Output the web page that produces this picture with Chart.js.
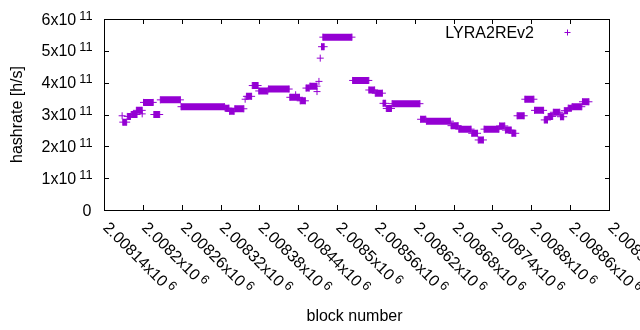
<!DOCTYPE html>
<html><head><meta charset="utf-8">
<script src="https://cdn.jsdelivr.net/npm/chart.js@4.4.1/dist/chart.umd.min.js"></script>
<style>html,body{margin:0;padding:0;background:#fff;}#wrap{width:640px;height:330px;}</style>
</head><body><div id="wrap"><canvas id="c" width="640" height="330"></canvas></div>
<script>
// ---- data ----
const seriesName = 'LYRA2REv2';
const xTitle = 'block number';
const yTitle = 'hashrate [h/s]';
const xTickValues = [2008140,2008200,2008260,2008320,2008380,2008440,2008500,2008560,2008620,2008680,2008740,2008800,2008860,2008920];
const xTickMant = ['2.00814','2.0082','2.00826','2.00832','2.00838','2.00844','2.0085','2.00856','2.00862','2.00868','2.00874','2.0088','2.00886','2.00892'];
const xTickExp = '6';
const yTickValues = [0,1e11,2e11,3e11,4e11,5e11,6e11];
const yTickMant = ['0','1','2','3','4','5','6'];
const yTickExp = '11';

// runs of consecutive blocks at a constant hashrate
const runStart = [2008169,2008176,2008182,2008190,2008201,2008217,2008227,2008259,2008327,2008334,2008342,2008360,2008369,2008379,2008394,2008427,2008443,2008452,2008458,2008476,2008478,2008524,2008549,2008559,2008571,2008576,2008585,2008629,2008638,2008676,2008688,2008708,2008718,2008727,2008751,2008760,2008770,2008778,2008790,2008805,2008820,2008826,2008834,2008845,2008851,2008857,2008863,2008879];
const runEnd = [2008175,2008181,2008191,2008199,2008216,2008226,2008258,2008326,2008333,2008341,2008356,2008368,2008378,2008393,2008426,2008442,2008451,2008457,2008469,2008480,2008523,2008549,2008558,2008570,2008575,2008584,2008628,2008637,2008675,2008687,2008707,2008717,2008726,2008750,2008759,2008769,2008776,2008789,2008804,2008819,2008825,2008833,2008844,2008850,2008856,2008862,2008878,2008889];
const runHashrate = [2.76e11,2.94e11,3.00e11,3.13e11,3.38e11,3.00e11,3.46e11,3.245e11,3.20e11,3.10e11,3.18e11,3.57e11,3.91e11,3.74e11,3.80e11,3.54e11,3.43e11,3.83e11,3.89e11,5.13e11,5.43e11,4.07e11,3.77e11,3.67e11,3.35e11,3.19e11,3.34e11,2.85e11,2.79e11,2.65e11,2.54e11,2.41e11,2.20e11,2.54e11,2.64e11,2.51e11,2.41e11,2.96e11,3.48e11,3.13e11,2.83e11,2.94e11,3.07e11,2.93e11,3.12e11,3.20e11,3.245e11,3.40e11];
// isolated blocks
const pointBlock = [2008168,2008199,2008358,2008436,2008469,2008472,2008474];
const pointHashrate = [2.96e11,3.02e11,3.48e11,3.62e11,3.72e11,4.04e11,4.77e11];

// ---- build library tables ----
const color = '#9400d3';
const runData = [];
runStart.forEach((s, i) => {
  runData.push({x: s, y: runHashrate[i]});
  runData.push({x: runEnd[i], y: runHashrate[i]});
  runData.push({x: runEnd[i], y: null});
});
const pointData = pointBlock.map((b, i) => ({x: b, y: pointHashrate[i]}));

const FONT = '"Liberation Sans", Arial, sans-serif';
const FS = 16, SFS = 12.8, RAISE = 5, GAP = 3;

const decor = {
  id: 'decor',
  afterDraw(chart) {
    const {ctx, chartArea: a, scales: {x, y}} = chart;
    ctx.save();
    ctx.strokeStyle = '#000';
    ctx.lineWidth = 1;
    ctx.strokeRect(a.left + 0.5, a.top + 0.5, a.right - a.left, a.bottom - a.top);
    ctx.beginPath();
    const TL = 5;
    xTickValues.forEach(v => {
      const px = Math.round(x.getPixelForValue(v)) + 0.5;
      ctx.moveTo(px, a.bottom); ctx.lineTo(px, a.bottom - TL);
      ctx.moveTo(px, a.top); ctx.lineTo(px, a.top + TL);
    });
    yTickValues.forEach(v => {
      const py = Math.round(y.getPixelForValue(v)) + 0.5;
      ctx.moveTo(a.left, py); ctx.lineTo(a.left + TL, py);
      ctx.moveTo(a.right + 1, py); ctx.lineTo(a.right + 1 - TL, py);
    });
    ctx.stroke();

    ctx.fillStyle = '#000';
    // y tick labels
    const yRight = 92.5;
    yTickValues.forEach((v, i) => {
      const py = y.getPixelForValue(v);
      const base = py + 5.6;
      if (v === 0) {
        ctx.font = FS + 'px ' + FONT; ctx.textAlign = 'right'; ctx.textBaseline = 'alphabetic';
        ctx.fillText(yTickMant[i], yRight - 1, base);
        return;
      }
      ctx.font = SFS + 'px ' + FONT;
      const ws = ctx.measureText(yTickExp).width;
      ctx.textAlign = 'left'; ctx.textBaseline = 'alphabetic';
      ctx.fillText(yTickExp, yRight - ws, base - RAISE);
      ctx.font = FS + 'px ' + FONT;
      ctx.textAlign = 'right';
      ctx.fillText(yTickMant[i] + 'x10', yRight - ws - GAP, base);
    });
    // x tick labels, rotated
    xTickValues.forEach((v, i) => {
      const px = x.getPixelForValue(v);
      ctx.save();
      ctx.translate(px - 1.8, a.bottom + 18.5);
      ctx.rotate(Math.PI / 4);
      ctx.textAlign = 'left'; ctx.textBaseline = 'alphabetic';
      ctx.font = FS + 'px ' + FONT;
      const m = xTickMant[i] + 'x10';
      ctx.fillText(m, 0, 0);
      const wm = ctx.measureText(m).width;
      ctx.font = SFS + 'px ' + FONT;
      ctx.fillText(xTickExp, wm + GAP, -RAISE);
      ctx.restore();
    });
    // axis titles
    ctx.font = FS + 'px ' + FONT;
    ctx.textAlign = 'center'; ctx.textBaseline = 'alphabetic';
    ctx.fillText(xTitle, 354.5, 320.5);
    ctx.save();
    ctx.translate(21.5, 114.5);
    ctx.rotate(-Math.PI / 2);
    ctx.fillText(yTitle, 0, 0);
    ctx.restore();
    // legend
    ctx.textAlign = 'right';
    ctx.fillText(seriesName, 534, 38);
    ctx.strokeStyle = color;
    ctx.beginPath();
    ctx.moveTo(564.5, 32.5); ctx.lineTo(570.5, 32.5);
    ctx.moveTo(567.5, 29.5); ctx.lineTo(567.5, 35.5);
    ctx.stroke();
    ctx.restore();
  }
};

new Chart(document.getElementById('c'), {
  type: 'line',
  data: {
    datasets: [
      {label: seriesName, data: runData, borderColor: color, backgroundColor: color,
       borderWidth: 7, borderCapStyle: 'butt', tension: 0, spanGaps: false, fill: false,
       pointStyle: 'cross', pointRadius: 3.5, pointHoverRadius: 3.5, pointBorderWidth: 1,
       pointBorderColor: color},
      {label: seriesName, data: pointData, showLine: false, borderColor: color, backgroundColor: color,
       pointStyle: 'cross', pointRadius: 3.5, pointHoverRadius: 3.5, pointBorderWidth: 1,
       pointBorderColor: color}
    ]
  },
  options: {
    responsive: false, animation: false, devicePixelRatio: 1,
    layout: {padding: {top: 19, right: 31, left: 0, bottom: 0}},
    plugins: {legend: {display: false}, tooltip: {enabled: false}},
    events: [],
    scales: {
      x: {type: 'linear', min: 2008140, max: 2008920,
          grid: {display: false}, border: {display: false}, ticks: {display: false},
          afterFit: s => { s.height = 120; }},
      y: {type: 'linear', min: 0, max: 6e11,
          grid: {display: false}, border: {display: false}, ticks: {display: false},
          afterFit: s => { s.width = 104; }}
    }
  },
  plugins: [decor]
});
</script>
</body></html>
